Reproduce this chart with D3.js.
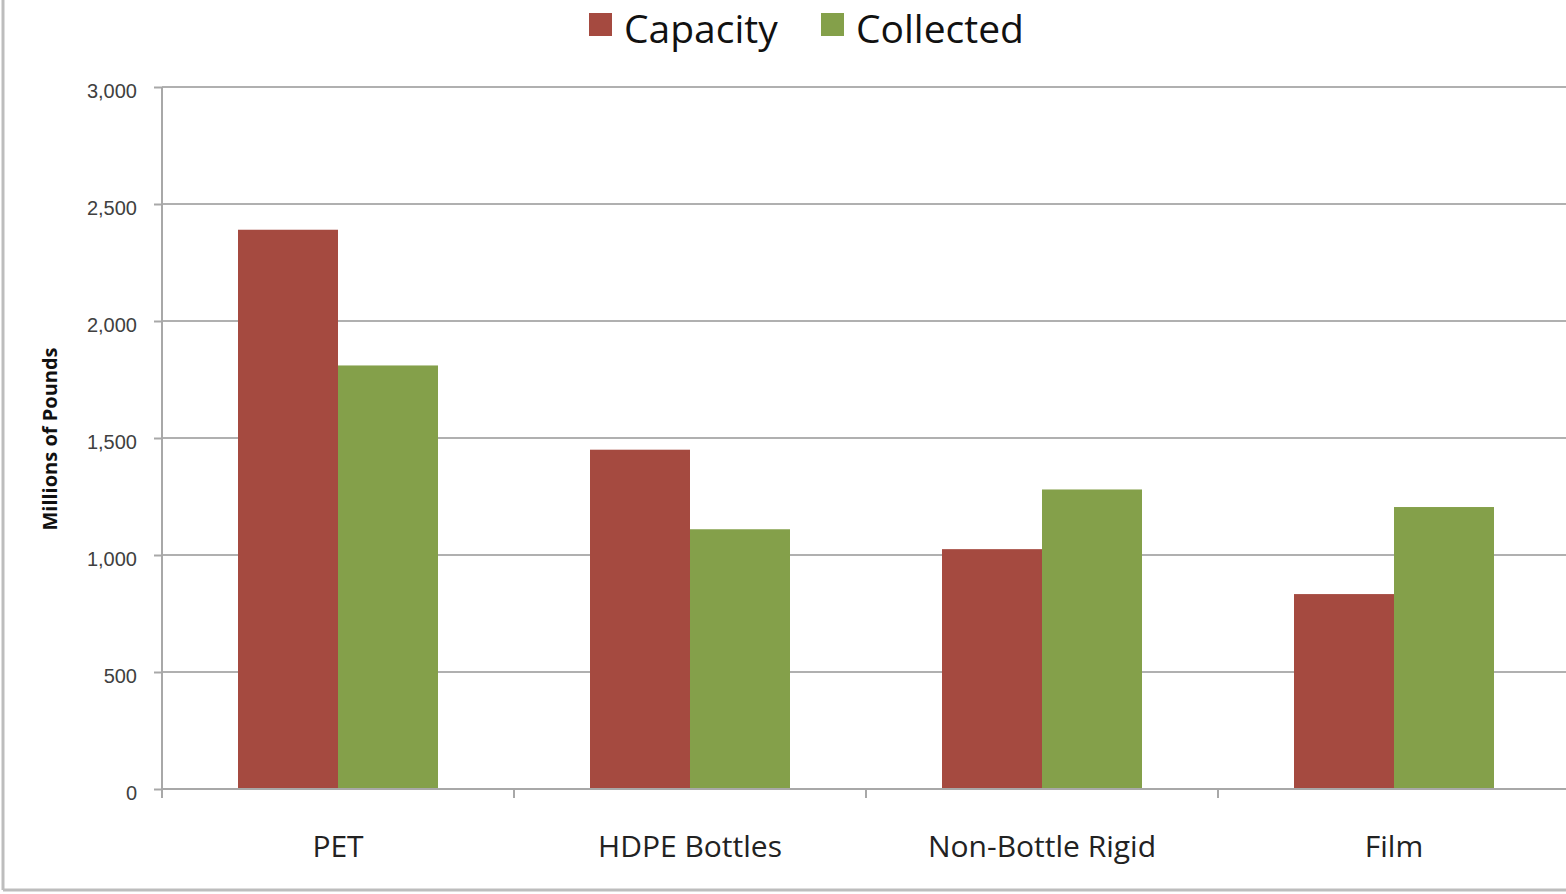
<!DOCTYPE html>
<html>
<head>
<meta charset="utf-8">
<script src="https://cdn.jsdelivr.net/npm/d3@7"></script>
<style>
  body { margin: 0; background: #fff; }
  svg { display: block; font-family: "Open Sans", Lato, sans-serif; }
</style>
</head>
<body>
<div id="chart"></div>
<script>
// data
var categories = ["PET", "HDPE Bottles", "Non-Bottle Rigid", "Film"];
var seriesNames = ["Capacity", "Collected"];
var capacity = [2390, 1450, 1025, 833];
var collected = [1810, 1110, 1280, 1205];
var yTicks = [0, 500, 1000, 1500, 2000, 2500, 3000];
var colors = ["#a54a40", "#84a04a"];

var W = 1566, H = 894;
var margin = {top: 88, left: 162, bottom: 105};

var svg = d3.select("#chart").append("svg")
    .attr("width", W)
    .attr("height", H);

// outer frame (only left and bottom edges are in view)
svg.append("line").attr("x1", 3).attr("x2", 3).attr("y1", 0).attr("y2", 890)
    .attr("stroke", "#bdbdbd").attr("stroke-width", 3);
svg.append("line").attr("x1", 3).attr("x2", W).attr("y1", 890).attr("y2", 890)
    .attr("stroke", "#bdbdbd").attr("stroke-width", 3);

var y = d3.scaleLinear().domain([0, 3000]).range([789, 87]);

var x0 = d3.scaleBand().domain(categories)
    .range([margin.left, margin.left + 352 * categories.length])
    .paddingInner(0).paddingOuter(0);

var x1 = d3.scaleBand().domain(seriesNames)
    .range([0, x0.bandwidth()])
    .paddingInner(0).paddingOuter(0.76);

// gridlines
svg.append("g")
    .selectAll("line")
    .data(yTicks.slice(1))
    .enter().append("line")
    .attr("x1", margin.left).attr("x2", W)
    .attr("y1", function(d) { return y(d); })
    .attr("y2", function(d) { return y(d); })
    .attr("stroke", "#b0b0b0").attr("stroke-width", 2);

// bars
var rows = categories.map(function(c, i) {
  return {cat: c, vals: [capacity[i], collected[i]]};
});

var groups = svg.append("g").selectAll("g")
    .data(rows)
    .enter().append("g")
    .attr("transform", function(d) { return "translate(" + x0(d.cat) + ",0)"; });

groups.selectAll("rect")
    .data(function(d) { return d.vals.map(function(v, j) { return {s: seriesNames[j], v: v, j: j}; }); })
    .enter().append("rect")
    .attr("x", function(d) { return x1(d.s); })
    .attr("width", x1.bandwidth())
    .attr("y", function(d) { return y(d.v); })
    .attr("height", function(d) { return y(0) - y(d.v); })
    .attr("fill", function(d) { return colors[d.j]; });

// y axis
var yAxis = svg.append("g")
    .attr("transform", "translate(" + margin.left + ",0)")
    .call(d3.axisLeft(y).tickValues(yTicks).tickSize(8).tickPadding(17)
      .tickFormat(d3.format(",")));
yAxis.select(".domain").attr("stroke", "#a8a8a8").attr("stroke-width", 2)
    .attr("d", "M0,87V798");
yAxis.selectAll(".tick line").attr("stroke", "#a8a8a8").attr("stroke-width", 2);
yAxis.selectAll("text").attr("fill", "#404040").attr("dy", "0.5em")
    .style("font-size", "20px");

// x axis
var xAxis = svg.append("g")
    .attr("transform", "translate(0," + y(0) + ")");
xAxis.append("line").attr("x1", margin.left).attr("x2", W)
    .attr("stroke", "#a8a8a8").attr("stroke-width", 2);
xAxis.selectAll(".xt")
    .data(categories)
    .enter().append("line")
    .attr("class", "xt")
    .attr("x1", function(d) { return x0(d); })
    .attr("x2", function(d) { return x0(d); })
    .attr("y1", 0).attr("y2", 9)
    .attr("stroke", "#a8a8a8").attr("stroke-width", 2);
xAxis.selectAll(".xl")
    .data(categories)
    .enter().append("text")
    .attr("class", "xl")
    .attr("x", function(d) { return x0(d) + x0.bandwidth() / 2; })
    .attr("y", 68)
    .attr("text-anchor", "middle")
    .attr("fill", "#222")
    .style("font-size", "30px")
    .text(function(d) { return d; });

// y label
svg.append("text")
    .attr("transform", "translate(57,439) rotate(-90)")
    .attr("text-anchor", "middle")
    .attr("fill", "#111")
    .style("font-size", "20px")
    .style("font-weight", "bold")
    .text("Millions of Pounds");

// legend
var legendX = [589, 821];
var legend = svg.append("g").selectAll("g")
    .data(seriesNames)
    .enter().append("g")
    .attr("transform", function(d, i) { return "translate(" + legendX[i] + ",0)"; });
legend.append("rect")
    .attr("x", 0).attr("y", 13).attr("width", 23).attr("height", 23)
    .attr("fill", function(d, i) { return colors[i]; });
legend.append("text")
    .attr("x", 35).attr("y", 43)
    .attr("fill", "#111")
    .style("font-size", "39px")
    .text(function(d) { return d; });
</script>
</body>
</html>
